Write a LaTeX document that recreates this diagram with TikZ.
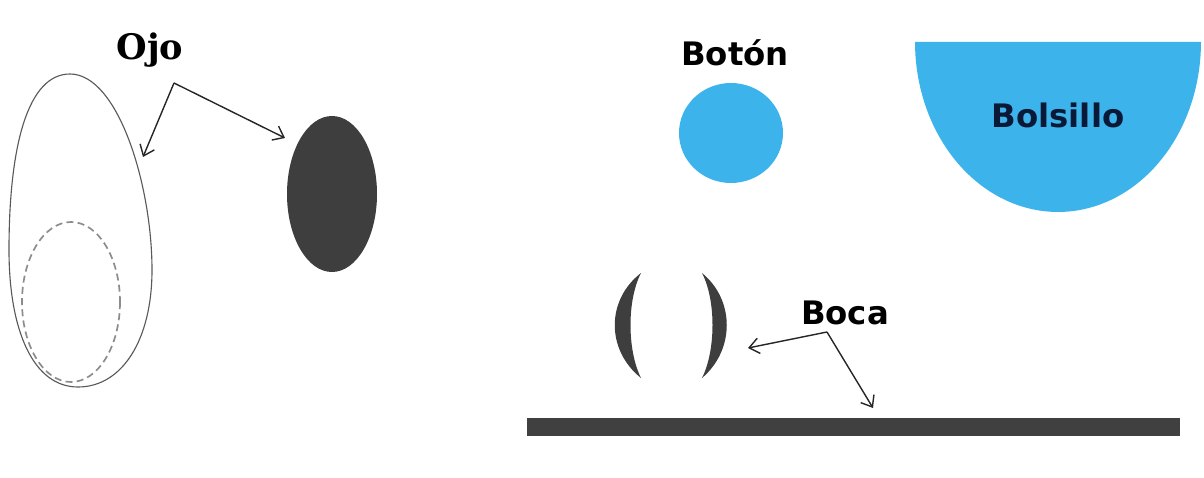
\documentclass[tikz,border=0pt]{standalone}
\usepackage{fontspec}
\setmainfont{DejaVu Serif}
\newfontfamily\labsans{DejaVu Sans}
\usetikzlibrary{arrows.meta}
\definecolor{skyblue}{RGB}{60,180,235}
\definecolor{darkfill}{RGB}{62,62,62}
\definecolor{navytext}{RGB}{10,25,55}
\tikzset{
  lbl/.style={font=\labsans\bfseries\fontsize{23}{26}\selectfont, inner sep=0pt},
  serlbl/.style={font=\bfseries\fontsize{25}{28}\selectfont, inner sep=0pt},
  pointer/.style={draw=black!85, line width=1pt, -{Straight Barb[length=7pt,width=11pt]}},
}
\begin{document}
\begin{tikzpicture}[x=0.025cm,y=-0.025cm]
\useasboundingbox (0,0) rectangle (1204,478);
% Ojo shapes
\draw[black!65, line width=0.8pt] (70,74) .. controls (118,74) and (152,185) .. (152,270)
  .. controls (152,340) and (122,387) .. (78,387)
  .. controls (33,387) and (9,330) .. (9,250)
  .. controls (9,145) and (28,74) .. (70,74) -- cycle;
\draw[black!45, line width=1.2pt, dashed, dash pattern=on 5pt off 3pt] (71,302) ellipse [x radius=49, y radius=80];
\fill[darkfill] (332,194) ellipse [x radius=45, y radius=78];
\node[serlbl] (ojo) at (150,50) {Ojo};
\coordinate (ojov) at (174,83);
\coordinate (ojoa) at (143,157);
\coordinate (ojob) at (285,138);
\draw[pointer] (ojov) -- (ojoa);
\draw[pointer] (ojov) -- (ojob);
% Boton
\node[lbl] (boton) at (735,53) {Botón};
\fill[skyblue] (731,133) ellipse [x radius=52, y radius=50];
% Bolsillo
\fill[skyblue] plot[domain=0:180, samples=80] ({1058+143*cos(\x)},{42+170*sin(\x)}) -- cycle;
\node[lbl, text=navytext] (bolsillo) at (1058,115) {Bolsillo};
% Boca
\fill[darkfill] (641,273) .. controls (606,300) and (606,350) .. (641,378)
  .. controls (627,350) and (627,300) .. (641,273) -- cycle;
\fill[darkfill] (702,273) .. controls (735,300) and (735,350) .. (702,378)
  .. controls (716,350) and (716,300) .. (702,273) -- cycle;
\fill[black!75] (527,418) rectangle (1180,436);
\node[lbl] (boca) at (845,313) {Boca};
\coordinate (bocav) at (827,332);
\coordinate (bocaa) at (748,348);
\coordinate (bocab) at (873,408);
\draw[pointer] (bocav) -- (bocaa);
\draw[pointer] (bocav) -- (bocab);
\end{tikzpicture}
\end{document}
